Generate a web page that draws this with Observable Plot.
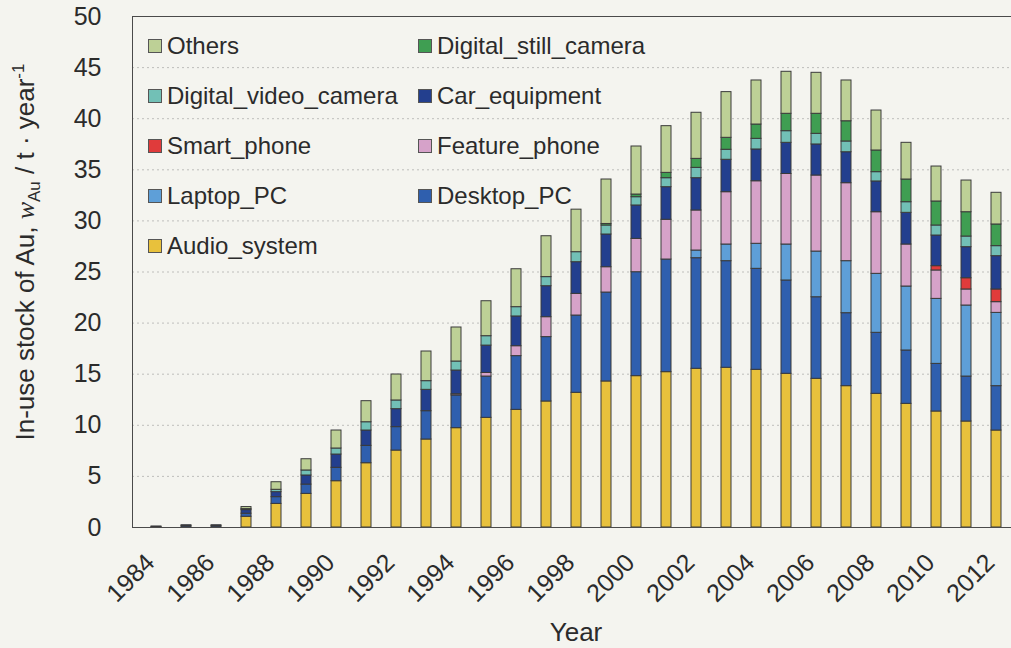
<!DOCTYPE html>
<html>
<head>
<meta charset="utf-8">
<script src="https://cdn.jsdelivr.net/npm/d3@7"></script>
<script src="https://cdn.jsdelivr.net/npm/@observablehq/plot@0.6"></script>
<style>
  html, body { margin: 0; padding: 0; background: #f4f4ef; overflow: hidden; }
  #chart { position: relative; width: 1011px; height: 648px; font-family: "Liberation Sans", Arial, sans-serif; color: #2b2b2b; }
  .legend { position: absolute; left: 148px; top: 21px; display: grid; grid-template-columns: 270px auto; grid-auto-rows: 50px; font-size: 24px; }
  .item { display: flex; align-items: center; white-space: nowrap; }
  .sw { width: 12px; height: 12px; border: 1px solid #555; margin-right: 5px; flex: none; }
</style>
</head>
<body>
<div id="chart"></div>
<script>
// Years and labelled years on the x axis
const years = [1984, 1985, 1986, 1987, 1988, 1989, 1990, 1991, 1992, 1993, 1994, 1995, 1996, 1997, 1998,
  1999, 2000, 2001, 2002, 2003, 2004, 2005, 2006, 2007, 2008, 2009, 2010, 2011, 2012];
const labelYears = [1984, 1986, 1988, 1990, 1992, 1994, 1996, 1998, 2000, 2002, 2004, 2006, 2008, 2010, 2012];
const yTicks = [0, 5, 10, 15, 20, 25, 30, 35, 40, 45, 50];

// In-use stock of gold (t/year) per product group, one value per year
const audioSystem = [0, 0, 0, 1.05, 2.31, 3.29, 4.53, 6.29, 7.53, 8.61, 9.72, 10.73, 11.51, 12.33, 13.18,
  14.29, 14.81, 15.20, 15.53, 15.63, 15.43, 15.04, 14.55, 13.83, 13.08, 12.10, 11.35, 10.37, 9.49];
const desktopPC = [0.05, 0.12, 0.12, 0.30, 0.66, 0.91, 1.31, 1.70, 2.29, 2.77, 3.20, 4.04, 5.26, 6.30, 7.56,
  8.70, 10.17, 11.02, 10.82, 10.43, 9.88, 9.13, 7.98, 7.14, 5.97, 5.22, 4.66, 4.40, 4.34];
const laptopPC = [0, 0, 0, 0, 0, 0, 0, 0, 0, 0, 0, 0, 0, 0, 0,
  0, 0, 0, 0.75, 1.63, 2.45, 3.52, 4.47, 5.09, 5.77, 6.26, 6.36, 6.95, 7.17];
const featurePhone = [0, 0, 0, 0, 0, 0, 0, 0, 0, 0, 0.12, 0.35, 0.97, 1.95, 2.12,
  2.48, 3.26, 3.89, 3.92, 5.12, 6.12, 6.90, 7.44, 7.63, 6.03, 4.11, 2.78, 1.57, 1.05];
const smartPhone = [0, 0, 0, 0, 0, 0, 0, 0, 0, 0, 0, 0, 0, 0, 0,
  0, 0, 0, 0, 0, 0, 0, 0, 0, 0, 0, 0.42, 1.10, 1.24];
const carEquipment = [0.05, 0.10, 0.10, 0.35, 0.49, 0.89, 1.30, 1.50, 1.76, 2.09, 2.32, 2.68, 2.91, 3.03, 3.10,
  3.20, 3.27, 3.19, 3.16, 3.17, 3.11, 3.05, 3.04, 3.03, 3.01, 3.10, 3.00, 3.04, 3.26];
const digitalVideoCamera = [0, 0, 0, 0.10, 0.23, 0.49, 0.59, 0.81, 0.85, 0.85, 0.88, 0.92, 0.91, 0.89, 0.98,
  0.88, 0.81, 0.88, 1.01, 0.98, 1.04, 1.14, 1.04, 1.05, 0.91, 1.04, 0.98, 1.04, 0.98];
const digitalStillCamera = [0, 0, 0, 0, 0, 0, 0, 0, 0, 0, 0, 0, 0, 0, 0,
  0.15, 0.26, 0.52, 0.88, 1.17, 1.40, 1.70, 1.96, 1.98, 2.12, 2.22, 2.35, 2.38, 2.12];
const others = [0, 0, 0, 0.20, 0.74, 1.10, 1.76, 2.06, 2.54, 2.90, 3.33, 3.42, 3.71, 4.00, 4.16,
  4.35, 4.70, 4.57, 4.51, 4.47, 4.31, 4.11, 4.01, 3.99, 3.91, 3.59, 3.42, 3.10, 3.10];

// Stack order, bottom to top
const seriesNames = ["Audio_system", "Desktop_PC", "Laptop_PC", "Feature_phone", "Smart_phone",
  "Car_equipment", "Digital_video_camera", "Digital_still_camera", "Others"];
const seriesValues = [audioSystem, desktopPC, laptopPC, featurePhone, smartPhone,
  carEquipment, digitalVideoCamera, digitalStillCamera, others];
const seriesColors = ["#e8c13c", "#2f5fae", "#5e9fd8", "#d6a2c9", "#e03b3b",
  "#233f8e", "#72c0b6", "#3f9e52", "#bdd096"];

// Legend layout: two columns, read row by row
const legendOrder = ["Others", "Digital_still_camera", "Digital_video_camera", "Car_equipment",
  "Smart_phone", "Feature_phone", "Laptop_PC", "Desktop_PC", "Audio_system"];

const rows = [];
seriesNames.forEach((name, i) => {
  years.forEach((year, j) => {
    const v = seriesValues[i][j];
    if (v > 0) rows.push({ year, series: name, value: v });
  });
});

const font = '"Liberation Sans", Arial, sans-serif';

const chart = Plot.plot({
  width: 1011,
  height: 648,
  marginLeft: 132,
  marginRight: -8,
  marginTop: 16,
  marginBottom: 121,
  style: { background: "transparent", fontFamily: font, fontSize: "25px", color: "#2b2b2b" },
  x: { type: "band", domain: years, paddingInner: 0.67, paddingOuter: 0.36 },
  y: { domain: [0, 50] },
  color: { domain: seriesNames, range: seriesColors },
  marks: [
    Plot.gridY(yTicks.slice(1, -1), { stroke: "#8a8a8a", strokeOpacity: 0.5, strokeDasharray: "2,3" }),
    Plot.barY(rows, {
      x: "year", y: "value", fill: "series", order: seriesNames,
      stroke: "#3a3a3a", strokeWidth: 1
    }),
    Plot.axisY({ ticks: yTicks, tickSize: 0, tickPadding: 31, label: null, fontSize: 25 }),
    Plot.axisX({
      ticks: labelYears, tickSize: 0, tickRotate: -45, tickPadding: 31, dx: -6, fontSize: 25,
      tickFormat: d => String(d),
      label: null
    }),
    Plot.frame({ stroke: "#4a4a4a", strokeWidth: 1 })
  ]
});

const svg = d3.select(chart);

// x-axis title
svg.append("text")
  .attr("x", 576).attr("y", 641)
  .attr("text-anchor", "middle")
  .attr("font-family", font)
  .attr("font-size", 26)
  .attr("fill", "#2b2b2b")
  .text("Year");

// Rotated y-axis title with italic symbol, subscript and superscript
const yTitle = svg.append("text")
  .attr("transform", "translate(34,252) rotate(-90)")
  .attr("text-anchor", "middle")
  .attr("font-family", font)
  .attr("font-size", 26)
  .attr("fill", "#2b2b2b");
yTitle.append("tspan").text("In-use stock of Au, ");
yTitle.append("tspan").attr("font-family", '"Liberation Serif", "Times New Roman", serif').attr("font-style", "italic").text("w");
yTitle.append("tspan").attr("font-size", 17).attr("dy", 6).text("Au");
yTitle.append("tspan").attr("dy", -6).text(" / t · year");
yTitle.append("tspan").attr("font-size", 17).attr("dy", -10).text("-1");

const container = document.getElementById("chart");
container.appendChild(chart);

// Legend drawn over the plot area
const legend = document.createElement("div");
legend.className = "legend";
legendOrder.forEach(name => {
  const item = document.createElement("div");
  item.className = "item";
  const sw = document.createElement("span");
  sw.className = "sw";
  sw.style.background = seriesColors[seriesNames.indexOf(name)];
  const label = document.createElement("span");
  label.textContent = name;
  item.appendChild(sw);
  item.appendChild(label);
  legend.appendChild(item);
});
container.appendChild(legend);
</script>
</body>
</html>
